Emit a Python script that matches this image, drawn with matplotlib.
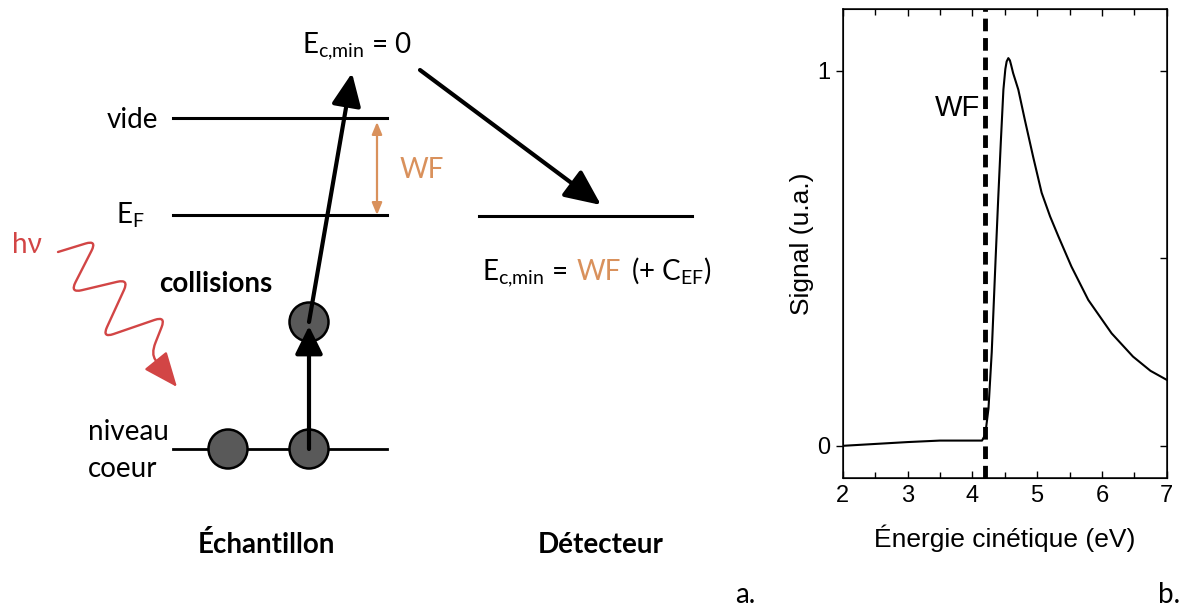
import matplotlib
matplotlib.use('Agg')
import matplotlib.pyplot as plt
from matplotlib.patches import Circle, PathPatch
from matplotlib.path import Path
from matplotlib.offsetbox import TextArea, HPacker, AnnotationBbox

plt.rcParams['mathtext.fontset'] = 'custom'
plt.rcParams['mathtext.rm'] = 'Lato'
plt.rcParams['mathtext.it'] = 'Lato:italic'
plt.rcParams['mathtext.bf'] = 'Lato:bold'

# spectrum
energy = [2.0, 2.5, 3.0, 3.5, 4.0, 4.15, 4.2, 4.25, 4.3, 4.36, 4.40, 4.44, 4.48,
          4.51, 4.53, 4.556, 4.58, 4.6, 4.63, 4.71, 4.81, 4.94, 5.07, 5.2, 5.33,
          5.53, 5.79, 6.15, 6.48, 6.75, 7.0]
signal = [0.0, 0.005, 0.01, 0.014, 0.014, 0.014, 0.03, 0.10, 0.25, 0.50, 0.66,
          0.81, 0.95, 1.005, 1.025, 1.034, 1.028, 1.015, 0.994, 0.95, 0.87, 0.77,
          0.675, 0.612, 0.558, 0.478, 0.389, 0.30, 0.238, 0.20, 0.176]
wf_energy = 4.2
xticks = [2, 3, 4, 5, 6, 7]
yticks = [0, 1]

ORANGE = '#D9915C'
RED = '#D24545'
DOT = '#595959'
FONT = ['Lato', 'Noto Sans', 'DejaVu Sans']

fig = plt.figure(figsize=(11.81, 6.09), dpi=100)

# schematic drawn in pixel units
ax0 = fig.add_axes([0, 0, 1, 1])
ax0.set_xlim(0, 1181)
ax0.set_ylim(609, 0)
ax0.axis('off')

# levels
ax0.plot([173, 387], [118, 118], color='k', lw=2.2)
ax0.plot([173, 387], [215, 215], color='k', lw=2.2)
ax0.plot([173, 387], [449, 449], color='k', lw=2.0, zorder=1)
ax0.plot([479, 692], [216, 216], color='k', lw=2.2)

# WF gap
ax0.annotate('', xy=(377, 122), xytext=(377, 215),
             arrowprops=dict(arrowstyle='<|-|>,head_length=0.6,head_width=0.25',
                             color=ORANGE, lw=1.6, mutation_scale=12,
                             shrinkA=0, shrinkB=0))

# electrons
for cx, cy in [(228, 449), (309, 449), (309, 322)]:
    ax0.add_patch(Circle((cx, cy), 19.5, facecolor=DOT, edgecolor='k', lw=1.8, zorder=2))

arrow_kw = dict(color='k', lw=3.0, shrinkA=0, shrinkB=0, mutation_scale=20)
ax0.annotate('', xy=(309, 326), xytext=(309, 449), zorder=3,
             arrowprops=dict(arrowstyle='-|>,head_length=0.85,head_width=0.42', **arrow_kw))
ax0.annotate('', xy=(352, 73), xytext=(309, 322), zorder=3,
             arrowprops=dict(arrowstyle='-|>,head_length=1.0,head_width=0.45', **arrow_kw))
ax0.annotate('', xy=(601, 205), xytext=(420, 70), zorder=3,
             arrowprops=dict(arrowstyle='-|>,head_length=1.1,head_width=0.5', **arrow_kw))

# photon (hv): zigzag with rounded corners
pts = [(58, 252), (97, 240), (70, 293), (129, 279), (102, 338), (166, 316), (151, 354), (160, 366)]
r = 12.0
verts = [pts[0]]
codes = [Path.MOVETO]
for i in range(1, len(pts) - 1):
    (px, py), (cx, cy), (nx, ny) = pts[i - 1], pts[i], pts[i + 1]
    d1 = ((px - cx) ** 2 + (py - cy) ** 2) ** 0.5
    d2 = ((nx - cx) ** 2 + (ny - cy) ** 2) ** 0.5
    a = (cx + (px - cx) * min(r, d1 / 2) / d1, cy + (py - cy) * min(r, d1 / 2) / d1)
    b = (cx + (nx - cx) * min(r, d2 / 2) / d2, cy + (ny - cy) * min(r, d2 / 2) / d2)
    verts += [a, (cx, cy), b]
    codes += [Path.LINETO, Path.CURVE3, Path.CURVE3]
verts.append(pts[-1])
codes.append(Path.LINETO)
ax0.add_patch(PathPatch(Path(verts, codes), facecolor='none', edgecolor=RED, lw=1.7,
                        joinstyle='round', capstyle='round'))
ax0.annotate('', xy=(177, 387), xytext=pts[-1],
             arrowprops=dict(arrowstyle='-|>,head_length=1.2,head_width=0.5',
                             color=RED, lw=1.7, mutation_scale=18, shrinkA=0, shrinkB=0))

# texts
fs = 20
ax0.text(158, 128, 'vide', fontsize=fs, family=FONT, ha='right', va='baseline')
ax0.text(145, 224, r'E$_{\mathrm{F}}$', fontsize=fs, family=FONT, ha='right', va='baseline')
ax0.text(400, 178, 'WF', fontsize=fs, family=FONT, color=ORANGE, ha='left', va='baseline')
ax0.text(302, 53, r'E$_{\mathrm{c{,}min}}$ = 0', fontsize=fs, family=FONT, ha='left', va='baseline')
ax0.text(159, 292, 'collisions', fontsize=fs, family=FONT, weight='bold', ha='left', va='baseline')
ax0.text(12, 253, 'hν', fontsize=fs, family=FONT, color=RED, ha='left', va='baseline')
ax0.text(88, 440, 'niveau', fontsize=fs, family=FONT, ha='left', va='baseline')
ax0.text(88, 477, 'coeur', fontsize=fs, family=FONT, ha='left', va='baseline')
ax0.text(266, 553, 'Échantillon', fontsize=fs, family=FONT, weight='bold', ha='center', va='baseline')
ax0.text(601, 553, 'Détecteur', fontsize=fs, family=FONT, weight='bold', ha='center', va='baseline')
ax0.text(735, 603, 'a.', fontsize=fs, family=FONT, ha='left', va='baseline')
ax0.text(1158, 603, 'b.', fontsize=fs, family=FONT, ha='left', va='baseline')

tp = dict(fontsize=fs, family=FONT)
parts = [TextArea(r'E$_{\mathrm{c{,}min}}$ =', textprops=tp),
         TextArea('WF', textprops=dict(tp, color=ORANGE)),
         TextArea(r'(+ C$_{\mathrm{EF}}$)', textprops=tp)]
box = HPacker(children=parts, align='baseline', pad=0, sep=7)
ax0.add_artist(AnnotationBbox(box, (482, 272), xycoords='data', box_alignment=(0, 0.5),
                              frameon=False, pad=0))

# spectrum panel
ax = fig.add_axes([842.7 / 1181, (609 - 477.7) / 609, 324 / 1181, (477.7 - 9) / 609])
ax.plot(energy, signal, color='k', lw=1.5)
ax.axvline(wf_energy, color='k', lw=3.5, ls=(0, (2.6, 1.4)))
ax.text(4.12, 0.90, 'WF', fontsize=21, family=['Liberation Sans'], ha='right', va='center')
ax.set_xlim(2, 7)
ax.set_ylim(-0.085, 1.165)
ax.set_xticks(xticks)
ax.set_xticks([2.5, 3.5, 4.5, 5.5, 6.5], minor=True)
ax.set_yticks(yticks)
ax.set_yticks([], minor=True)
ax.tick_params(axis='x', which='both', direction='in', top=True, labelsize=17, width=1, pad=5)
ax.tick_params(axis='x', which='major', length=5)
ax.tick_params(axis='x', which='minor', length=4)
ax.tick_params(axis='y', direction='out', length=5, width=1, labelsize=17, pad=4)
for lab in ax.get_xticklabels() + ax.get_yticklabels():
    lab.set_family('Liberation Sans')
for sp in ax.spines.values():
    sp.set_linewidth(1.1)
axr = ax.twinx()
axr.set_ylim(ax.get_ylim())
axr.set_yticks([0, 0.5, 1])
axr.tick_params(direction='in', length=5, width=1, labelright=False)
ax.set_xlabel('Énergie cinétique (eV)', fontsize=19, family='Liberation Sans', labelpad=13)
ax.set_ylabel('Signal (u.a.)', fontsize=19, family='Liberation Sans', labelpad=2)

fig.savefig('out.png', dpi=100)
